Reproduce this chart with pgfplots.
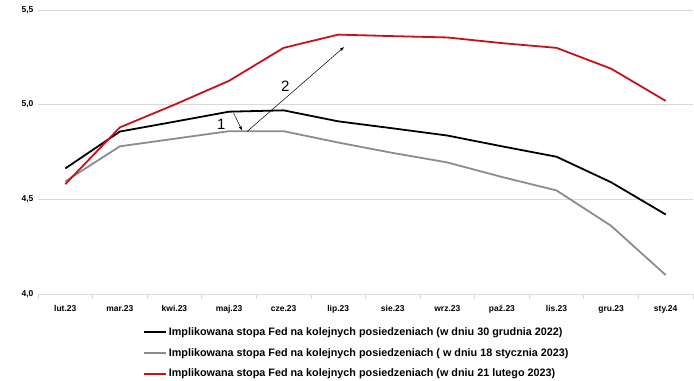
\documentclass[border=0pt]{standalone}
\usepackage{fontspec}
\setmainfont{Liberation Sans}
\usepackage{pgfplots}
\pgfplotsset{compat=1.18}
\definecolor{cred}{RGB}{200,16,26}
\definecolor{cgray}{RGB}{140,140,140}
\definecolor{cgrid}{RGB}{217,217,217}
\begin{document}
\begin{tikzpicture}
\begin{axis}[
  scale only axis, width=655pt, height=284pt,
  xmin=-0.5, xmax=11.5, ymin=4.0, ymax=5.5,
  ytick={4.0,4.5,5.0,5.5},
  xtick={0,...,11},
  xticklabels={lut.23,mar.23,kwi.23,maj.23,cze.23,lip.23,sie.23,wrz.23,paź.23,lis.23,gru.23,sty.24},
  minor xtick={-0.5,0.5,...,11.5},
  major tick length=0pt,
  minor tick length=5pt,
  tick align=outside,
  every minor tick/.style={draw=cgrid, line width=0.8pt},
  axis x line*=bottom,
  axis y line*=left,
  x axis line style={draw=cgrid, line width=0.8pt},
  y axis line style={draw=none},
  ymajorgrids, grid style={cgrid, line width=0.8pt},
  yticklabel style={font=\bfseries\fontsize{8.5}{10}\selectfont, xshift=-1pt},
  xticklabel style={font=\bfseries\fontsize{8.5}{10}\selectfont, yshift=-8pt},
  /pgf/number format/.cd, use comma, fixed, fixed zerofill, precision=1, assume math mode=true,
  /pgfplots/.cd,
  legend style={at={(0.16,-0.11)}, anchor=north west, draw=none, font=\bfseries\fontsize{10.8}{12}\selectfont, row sep=7.5pt, cells={anchor=west}, inner sep=0pt},
  legend image code/.code={\draw[#1, line width=1.8pt] (0pt,0pt) -- (22pt,0pt);},
  every axis plot/.append style={line width=1.8pt, line join=round},
]
\addplot[black] coordinates {(0,4.663) (1,4.858) (2,4.91) (3,4.963) (4,4.97) (5,4.912) (6,4.875) (7,4.837) (8,4.78) (9,4.725) (10,4.59) (11,4.42)};
\addlegendentry{Implikowana stopa Fed na kolejnych posiedzeniach (w dniu 30 grudnia 2022)}
\addplot[cgray] coordinates {(0,4.595) (1,4.78) (2,4.82) (3,4.86) (4,4.86) (5,4.80) (6,4.745) (7,4.695) (8,4.618) (9,4.547) (10,4.36) (11,4.10)};
\addlegendentry{Implikowana stopa Fed na kolejnych posiedzeniach ( w dniu 18 stycznia 2023)}
\addplot[cred] coordinates {(0,4.58) (1,4.88) (2,5.0) (3,5.126) (4,5.30) (5,5.37) (6,5.362) (7,5.355) (8,5.325) (9,5.30) (10,5.19) (11,5.02)};
\addlegendentry{Implikowana stopa Fed na kolejnych posiedzeniach (w dniu 21 lutego 2023)}
\draw[-latex, line width=0.5pt] (axis cs:3.08,4.958) -- (axis cs:3.24,4.863);
\draw[-latex, line width=0.5pt] (axis cs:3.33,4.858) -- (axis cs:5.11,5.305);
\node[font=\fontsize{15}{16}\selectfont] at (axis cs:2.86,4.895) {1};
\node[font=\fontsize{15}{16}\selectfont] at (axis cs:4.03,5.095) {2};
\end{axis}
\path[use as bounding box] (-38pt,-84pt) rectangle (656pt,294pt);
\end{tikzpicture}
\end{document}
